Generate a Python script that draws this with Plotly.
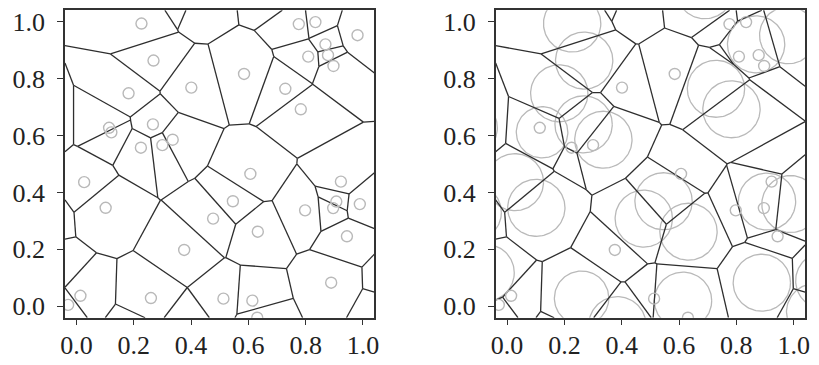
import numpy as np
import plotly.graph_objects as go

# ---- data (visible generator points) ----
px = [0.227, 0.269, 0.182, 0.401, 0.585, 0.776, 0.834, 0.981, 0.869, 0.809,
      0.878, 0.897, 0.729, 0.783, 0.114, 0.122, 0.267, 0.225, 0.300, 0.336,
      0.027, 0.102, 0.376, 0.014, -0.029, 0.260, 0.607, 0.923, 0.546, 0.477,
      0.633, 0.798, 0.907, 0.896, 0.989, 0.944, 0.889, 0.513, 0.614, 0.631]
py = [0.993, 0.863, 0.748, 0.768, 0.816, 0.991, 0.998, 0.952, 0.920, 0.877,
      0.882, 0.844, 0.764, 0.692, 0.627, 0.611, 0.639, 0.557, 0.566, 0.585,
      0.436, 0.346, 0.198, 0.037, 0.005, 0.029, 0.465, 0.438, 0.369, 0.308,
      0.262, 0.337, 0.368, 0.345, 0.359, 0.246, 0.083, 0.027, 0.020, -0.040]
# radius of each point's circle in the right panel (0 = plain point)
pr = [0.10, 0.10, 0.10, 0.0, 0.0, 0.0, 0.0, 0.10, 0.10, 0.0,
      0.0, 0.0, 0.10, 0.10, 0.0, 0.09, 0.10, 0.0, 0.0, 0.10,
      0.10, 0.10, 0.0, 0.0, 0.0, 0.095, 0.0, 0.0, 0.10, 0.10,
      0.10, 0.0, 0.10, 0.0, 0.10, 0.0, 0.10, 0.0, 0.10, 0.0]
# generator points lying outside the visible window
hx = [-0.134, -0.120, -0.075, 0.200, 1.107, 1.075, 0.385, 0.420, 0.690, 0.385]
hy = [0.627, 0.330, 0.118, -0.100, 0.090, -0.020, 1.095, 1.080, 1.110, -0.066]
hr = [0.10, 0.10, 0.10, 0.0, 0.10, 0.10, 0.0, 0.0, 0.10, 0.10]

tick_vals = [0.0, 0.2, 0.4, 0.6, 0.8, 1.0]
tick_text = ["0.0", "0.2", "0.4", "0.6", "0.8", "1.0"]
LO, HI = -0.04, 1.04

EDGE = "#2e2e2e"
CIRC = "#b9b9b9"


def clip(poly, a, b, c):
    out = []
    n = len(poly)
    for k in range(n):
        p = poly[k]
        q = poly[(k + 1) % n]
        fp = a * p[0] + b * p[1] - c
        fq = a * q[0] + b * q[1] - c
        if fp <= 0:
            out.append(p)
        if (fp < 0 < fq) or (fq < 0 < fp):
            t = fp / (fp - fq)
            out.append((p[0] + t * (q[0] - p[0]), p[1] + t * (q[1] - p[1])))
    return out


def power_edges(xs, ys, rs):
    n = len(xs)
    w = [r * r for r in rs]
    seen = set()
    ex, ey = [], []

    def onb(v):
        return abs(v - LO) < 1e-9 or abs(v - HI) < 1e-9

    for i in range(n):
        poly = [(LO, LO), (HI, LO), (HI, HI), (LO, HI)]
        for j in range(n):
            if i == j:
                continue
            a = 2 * (xs[j] - xs[i])
            b = 2 * (ys[j] - ys[i])
            c = (xs[j] ** 2 + ys[j] ** 2 - w[j]) - (xs[i] ** 2 + ys[i] ** 2 - w[i])
            poly = clip(poly, a, b, c)
            if not poly:
                break
        m = len(poly)
        for k in range(m):
            p = poly[k]
            q = poly[(k + 1) % m]
            if (abs(p[0] - q[0]) < 1e-9 and onb(p[0])) or (abs(p[1] - q[1]) < 1e-9 and onb(p[1])):
                continue
            if abs(p[0] - q[0]) < 1e-9 and abs(p[1] - q[1]) < 1e-9:
                continue
            key = tuple(sorted([(round(p[0], 5), round(p[1], 5)), (round(q[0], 5), round(q[1], 5))]))
            if key in seen:
                continue
            seen.add(key)
            ex += [p[0], q[0], None]
            ey += [p[1], q[1], None]
    return ex, ey


allx = px + hx
ally = py + hy
allr = pr + hr

lx, ly = power_edges(allx, ally, [0.0] * len(allx))
rx, ry = power_edges(allx, ally, allr)

fig = go.Figure()

fig.add_trace(go.Scatter(x=lx, y=ly, mode="lines", line=dict(color=EDGE, width=1.3),
                         hoverinfo="skip", xaxis="x", yaxis="y"))
fig.add_trace(go.Scatter(x=px, y=py, mode="markers",
                         marker=dict(symbol="circle-open", size=11, color=CIRC, line=dict(width=1.4)),
                         xaxis="x", yaxis="y"))

# right panel circles
cx, cy = [], []
th = np.linspace(0, 2 * np.pi, 121)
for x0, y0, r0 in zip(allx, ally, allr):
    if r0 > 0:
        cx += list(x0 + r0 * np.cos(th)) + [None]
        cy += list(y0 + r0 * np.sin(th)) + [None]
fig.add_trace(go.Scatter(x=cx, y=cy, mode="lines", line=dict(color=CIRC, width=1.3),
                         hoverinfo="skip", xaxis="x2", yaxis="y2"))
fig.add_trace(go.Scatter(x=rx, y=ry, mode="lines", line=dict(color=EDGE, width=1.3),
                         hoverinfo="skip", xaxis="x2", yaxis="y2"))
sx = [x for x, r in zip(px, pr) if r == 0]
sy = [y for y, r in zip(py, pr) if r == 0]
fig.add_trace(go.Scatter(x=sx, y=sy, mode="markers",
                         marker=dict(symbol="circle-open", size=11, color=CIRC, line=dict(width=1.4)),
                         xaxis="x2", yaxis="y2"))

W, H = 819, 365
font = dict(family="Liberation Serif", size=26, color="#222222")
axis_common = dict(range=[LO, HI], tickvals=tick_vals, ticktext=tick_text, ticks="outside",
                   ticklen=6, tickwidth=1.3, tickcolor="#333333", showline=True, mirror=True,
                   linecolor="#333333", linewidth=1.5, showgrid=False, zeroline=False,
                   tickfont=font, fixedrange=True)

ydom = [(365 - 321) / H, (365 - 8.3) / H]
fig.update_layout(
    width=W, height=H, margin=dict(l=0, r=0, t=0, b=0),
    paper_bgcolor="white", plot_bgcolor="white", showlegend=False,
    xaxis=dict(domain=[60.7 / W, 374 / W], anchor="y", ticklabelstandoff=-3, **axis_common),
    yaxis=dict(domain=ydom, anchor="x", ticklabelstandoff=7, **axis_common),
    xaxis2=dict(domain=[496.7 / W, 810 / W], anchor="y2", ticklabelstandoff=-3, **axis_common),
    yaxis2=dict(domain=ydom, anchor="x2", ticklabelstandoff=7, **axis_common),
)

fig.write_html("out.html")
